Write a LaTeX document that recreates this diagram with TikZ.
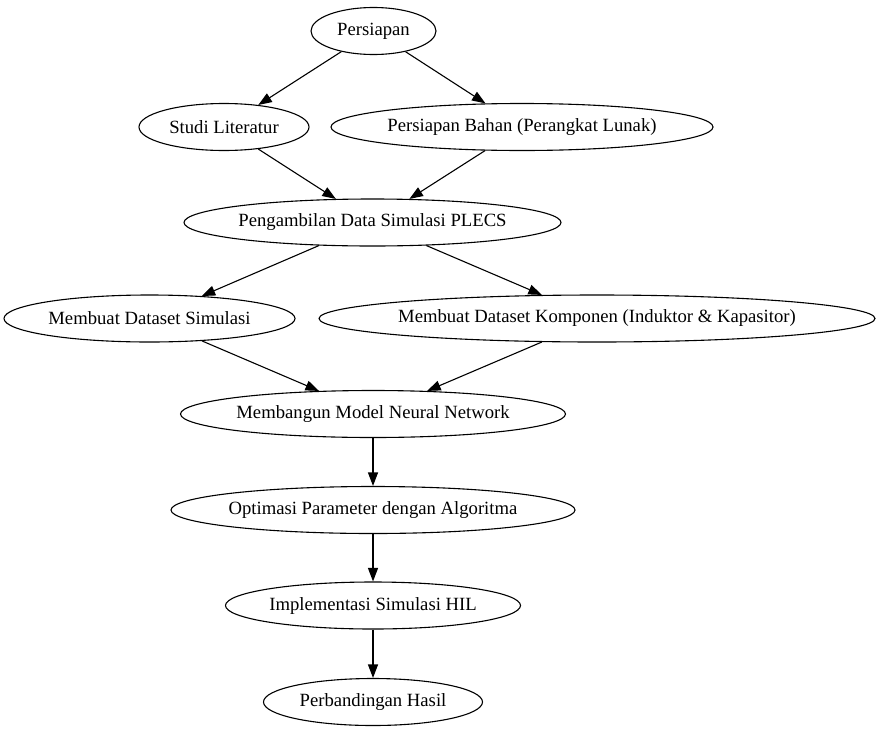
\documentclass[tikz,border=0pt]{standalone}
\usepackage{fontspec}
\setmainfont{Liberation Serif}
\usetikzlibrary{arrows.meta,shapes.geometric}

\begin{document}
\begin{tikzpicture}[x=1pt,y=-1pt,line width=1.1pt,
  proc/.style={draw,ellipse,inner xsep=-4pt,inner ysep=0pt,minimum height=47pt,font=\fontsize{18.67}{22}\selectfont},
  >={Triangle[length=13.5pt,width=10pt]}]
\useasboundingbox (0,0) rectangle (880,731);
\node[proc,minimum width=125pt] (P0) at (373.5,31) {Persiapan};
\node[proc,minimum width=170pt] (P11) at (224,127) {Studi Literatur};
\node[proc,minimum width=382pt] (P12) at (522,127) {Persiapan Bahan (Perangkat Lunak)};
\node[proc,minimum width=377pt] (P2) at (372.5,222.5) {Pengambilan Data Simulasi PLECS};
\node[proc,minimum width=291pt] (P31) at (149.5,318.5) {Membuat Dataset Simulasi};
\node[proc,minimum width=556pt] (P32) at (597,318.5) {Membuat Dataset Komponen (Induktor \& Kapasitor)};
\node[proc,minimum width=385pt] (P4) at (373,414) {Membangun Model Neural Network};
\node[proc,minimum width=404pt] (P5) at (373,510) {Optimasi Parameter dengan Algoritma};
\node[proc,minimum width=295pt] (P6) at (373,605.5) {Implementasi Simulasi HIL};
\node[proc,minimum width=219pt] (P7) at (373,702) {Perbandingan Hasil};
\draw[->] (P0)--(P11);
\draw[->] (P0)--(P12);
\draw[->] (P11)--(P2);
\draw[->] (P12)--(P2);
\draw[->] (P2)--(P31);
\draw[->] (P2)--(P32);
\draw[->] (P31)--(P4);
\draw[->] (P32)--(P4);
\draw[->] (P4)--(P5);
\draw[->] (P5)--(P6);
\draw[->] (P6)--(P7);
\end{tikzpicture}
\end{document}
